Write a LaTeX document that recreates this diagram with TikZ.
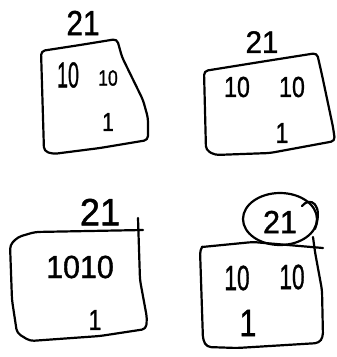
\documentclass[tikz,border=0pt]{standalone}
\usepackage{fontspec}
\setmainfont[FakeBold=1.2]{Liberation Sans}
\newcommand{\hw}[3]{\fontsize{#2}{#2}\selectfont\scalebox{#1}[1]{#3}}
\tikzset{
  box/.style={line width=2.2pt, line join=round, line cap=round, rounded corners=4pt},
  lbl/.style={inner sep=0pt, anchor=center}
}
\begin{document}
\begin{tikzpicture}[x=1pt,y=-1pt]
\useasboundingbox (0,0) rectangle (337,357);
% ---- top left ----
\draw[box] (44,151) -- (41,51) -- (80,45) -- (117,39) -- (122,57) -- (143,100) -- (148,118) -- (148,140) -- (100,148) -- (53,154) -- cycle;
\node[lbl] (q1t) at (83,23) {\hw{0.85}{35}{21}};
\node[lbl] (q1a) at (68,75) {\hw{0.55}{36}{10}};
\node[lbl] (q1b) at (108,78) {\hw{0.8}{22}{10}};
\node[lbl] (q1c) at (108,122) {\hw{0.8}{26}{1}};
% ---- top right ----
\draw[box] (206,150) -- (204,71) -- (260,62) -- (317,53) -- (322,75) -- (333,127) -- (335,141) -- (270,153) -- (215,155) -- cycle;
\node[lbl] (q2t) at (262,42) {\hw{0.95}{31}{21}};
\node[lbl] (q2a) at (237,87) {\hw{0.8}{29}{10}};
\node[lbl] (q2b) at (292,87) {\hw{0.8}{29}{10}};
\node[lbl] (q2c) at (282,133) {\hw{0.8}{29}{1}};
% ---- bottom left ----
\draw[box] (138,218) -- (140,280) -- (147,318) -- (146,329) -- (100,336) -- (30,341) -- (17,333) -- (12,300) -- (10,245) -- (18,237) -- (35,232) -- (143,230);
\node[lbl] (q3t) at (100,212) {\hw{0.95}{38}{21}};
\node[lbl] (q3a) at (80,267) {\hw{0.95}{32}{1010}};
\node[lbl] (q3c) at (95,320) {\hw{0.8}{29}{1}};
% ---- bottom right ----
\draw[box] (202,247) -- (253,242) -- (323,248);
\draw[box] (313,237) -- (315,252) -- (322,290) -- (323,337) -- (319,343) -- (237,348) -- (207,347) -- (203,340) -- (200,250) -- (202,247);
\draw[line width=2.2pt] (280,219) ellipse [x radius=37, y radius=26];
\draw[line width=2.2pt, line cap=round] (302,206) .. controls (310,196) and (324,204) .. (315,229);
\node[lbl] (q4t) at (280,222) {\hw{0.95}{32}{21}};
\node[lbl] (q4a) at (237,278) {\hw{0.65}{35}{10}};
\node[lbl] (q4b) at (292,277) {\hw{0.65}{35}{10}};
\node[lbl] (q4c) at (248,323) {\hw{0.8}{38}{1}};
\end{tikzpicture}
\end{document}
